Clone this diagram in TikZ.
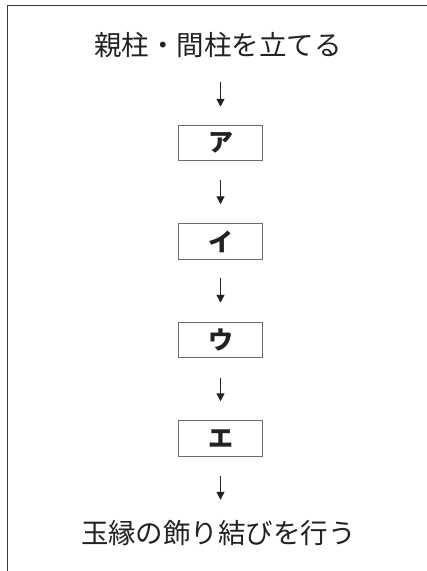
\documentclass[tikz,border=0pt]{standalone}
\usepackage{fontspec}
\newfontfamily\jp{Noto Sans CJK JP}
\usetikzlibrary{arrows.meta}
\definecolor{frame}{HTML}{3A3A3A}
\definecolor{ink}{HTML}{222222}
\definecolor{boxline}{HTML}{6A6A6A}
\tikzset{
  stepbox/.style={draw=boxline, line width=1pt, minimum width=84pt, minimum height=35.5pt, inner sep=0pt,
    font=\jp\bfseries\fontsize{25}{29}\selectfont, text=ink},
  plaintext/.style={inner sep=0pt, minimum height=40pt, font=\jp\fontsize{27.5}{33}\selectfont, text=ink},
  flow/.style={draw=ink, line width=1.3pt, -{Triangle[width=8pt,length=8pt]}, shorten <=19pt, shorten >=19pt}
}
\begin{document}
\begin{tikzpicture}[x=1pt,y=-1pt]
\useasboundingbox (0,0) rectangle (427,571);
\draw[frame, line width=1.7pt] (7.5,571) -- (7.5,5.5) -- (427,5.5);
\node[plaintext] (t0) at (218,45) {親柱・間柱を立てる};
\node[stepbox] (b1) at (220.5,143) {ア};
\node[stepbox] (b2) at (220.5,241.5) {イ};
\node[stepbox] (b3) at (220.5,340) {ウ};
\node[stepbox] (b4) at (220.5,438.5) {エ};
\node[plaintext] (t5) at (218.5,533) {玉縁の飾り結びを行う};
\draw[flow, shorten <=17pt, shorten >=18pt] (t0.south -| b1.north) -- (b1.north);
\draw[flow] (b1) -- (b2);
\draw[flow, shorten <=18pt] (b2) -- (b3);
\draw[flow, shorten <=20pt] (b3) -- (b4);
\draw[flow, shorten >=13pt] (b4.south) -- (b4.south |- t5.north);
\end{tikzpicture}
\end{document}
